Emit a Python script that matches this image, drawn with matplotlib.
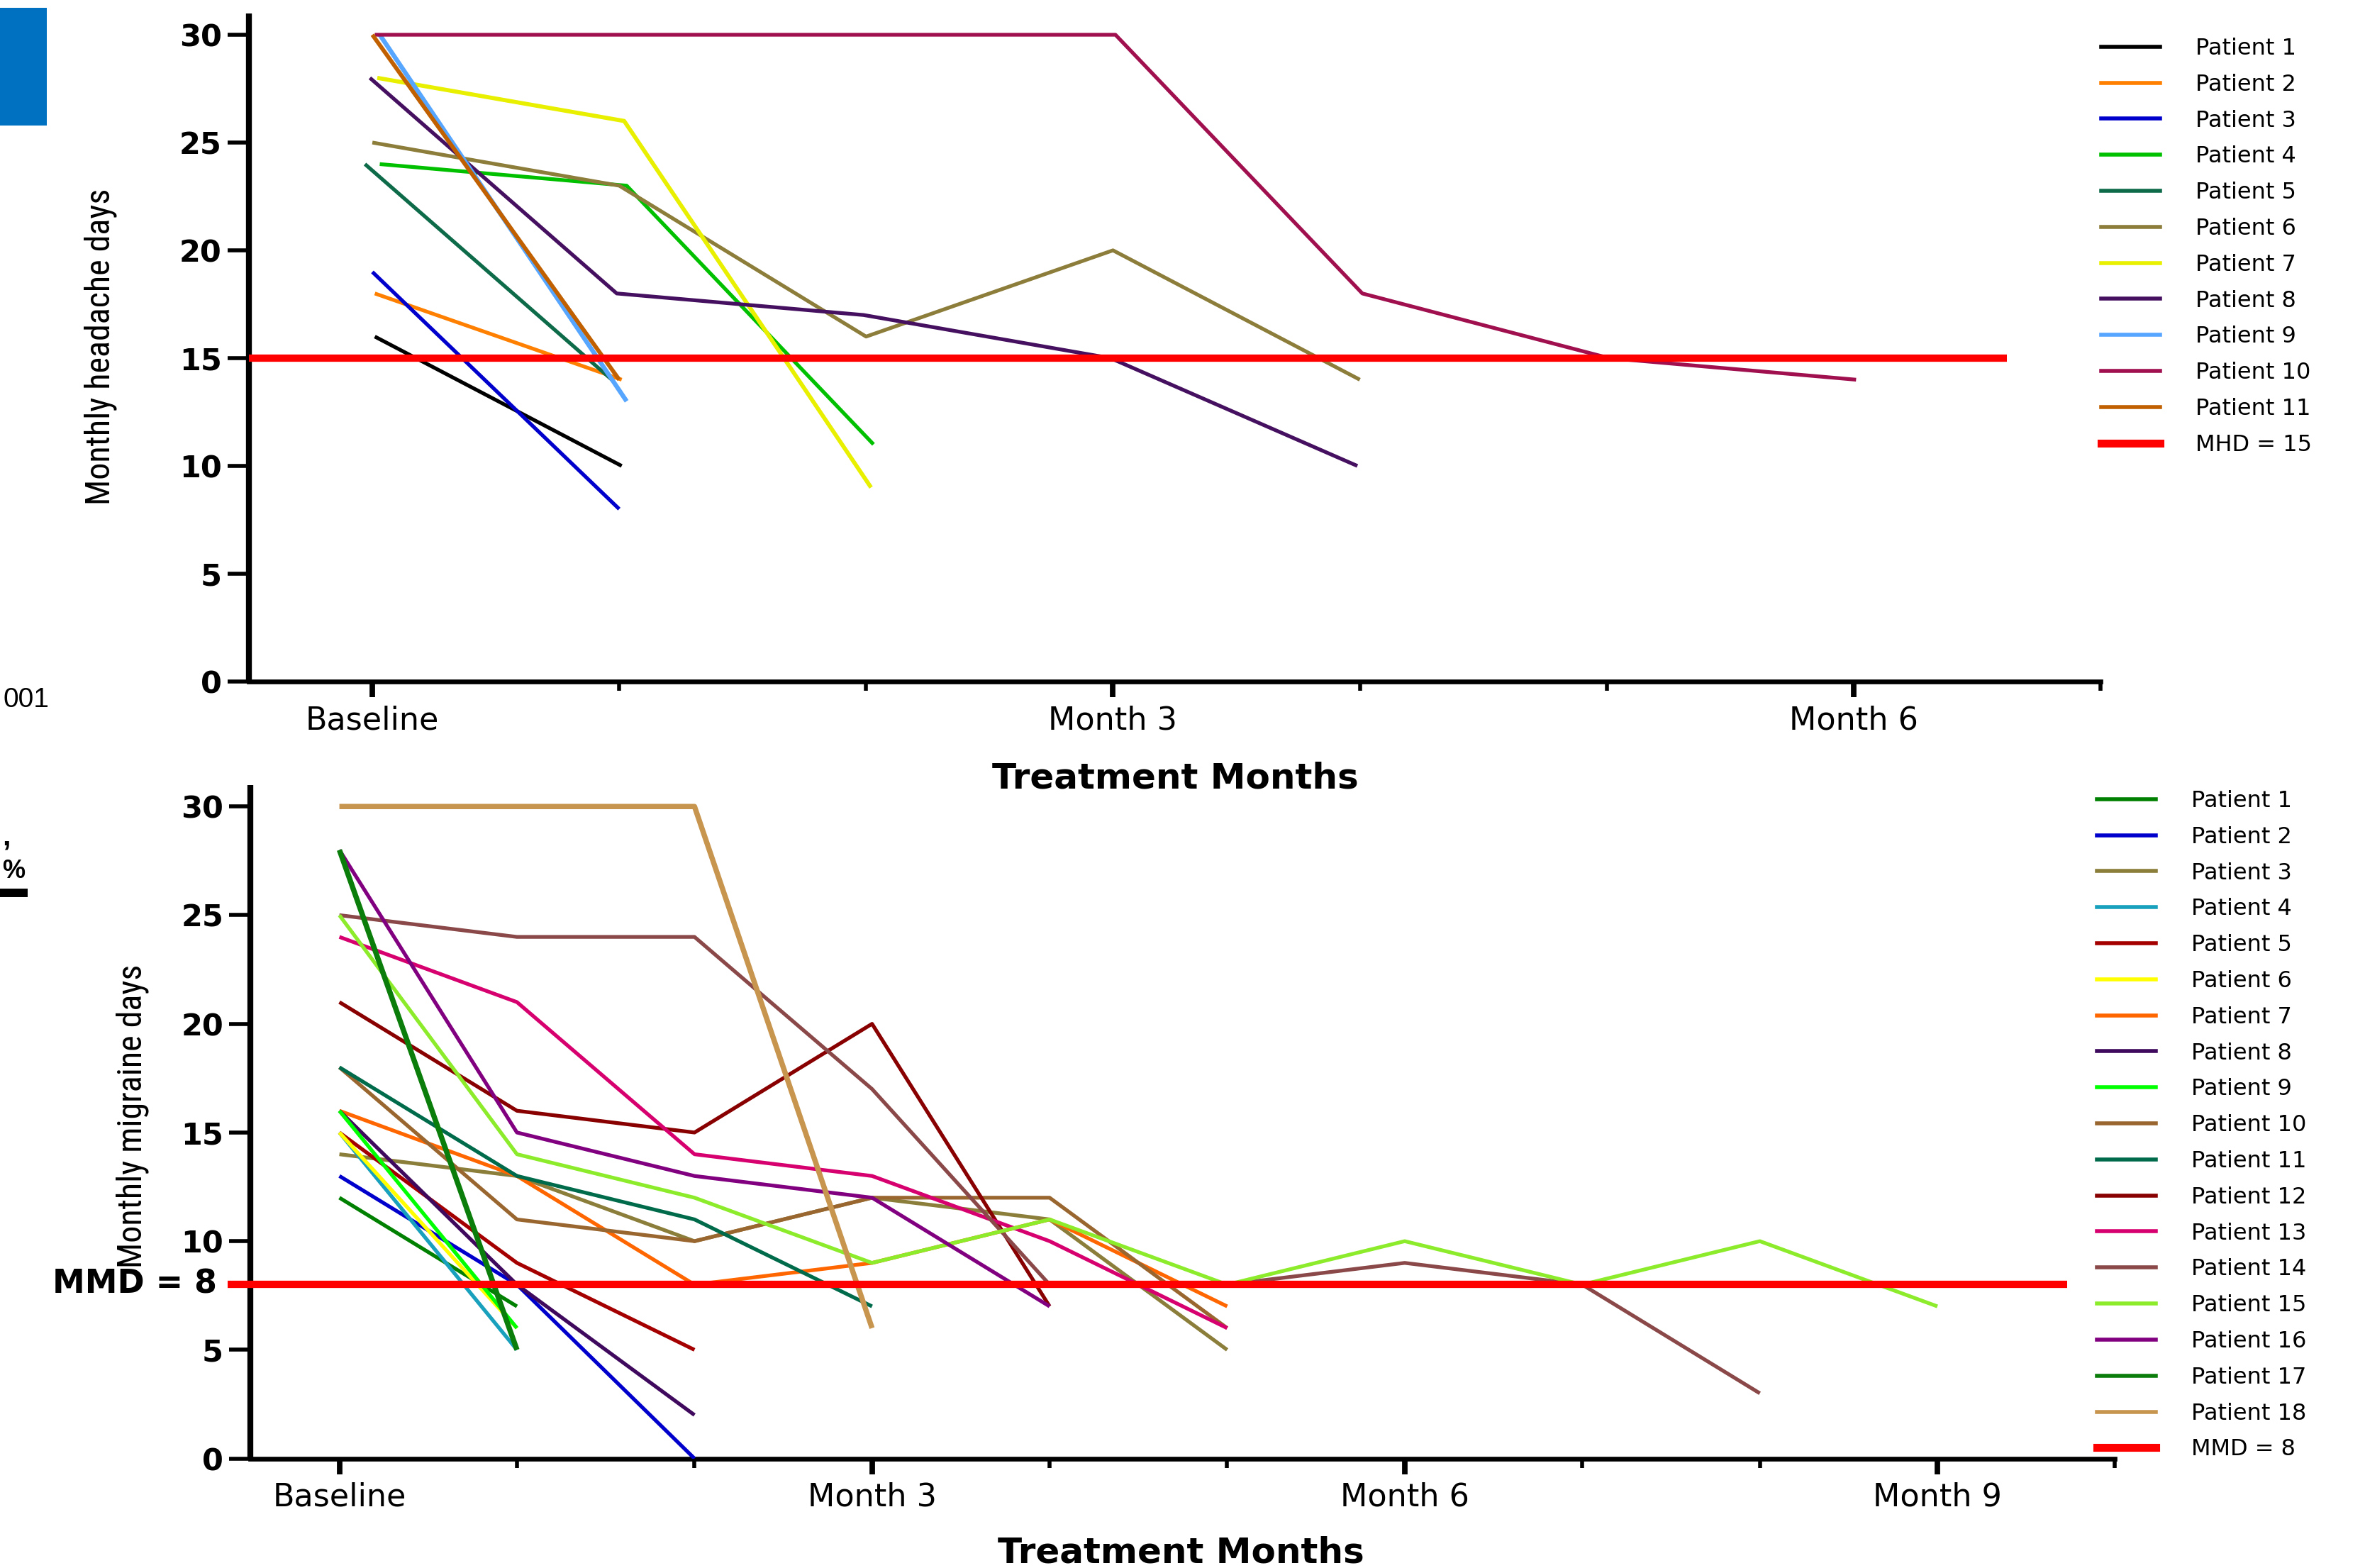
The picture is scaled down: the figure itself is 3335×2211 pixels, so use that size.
import matplotlib
matplotlib.use("Agg")
import matplotlib.pyplot as plt
from matplotlib import font_manager as fm
from matplotlib.lines import Line2D
from matplotlib.patches import Rectangle
from matplotlib.ticker import FixedLocator

# ---------------- data ----------------
top_patients = ["Patient 1", "Patient 2", "Patient 3", "Patient 4", "Patient 5", "Patient 6",
                "Patient 7", "Patient 8", "Patient 9", "Patient 10", "Patient 11"]
top_values = [
    [16, 10],
    [18, 14],
    [19, 8],
    [24, 23, 11],
    [24, 14],
    [25, 23, 16, 20, 14],
    [28, 26, 9],
    [28, 18, 17, 15, 10],
    [30, 13],
    [30, 30, 30, 30, 18, 15, 14],
    [30, 14],
]
top_colors = ["#000000", "#FF8000", "#0000CC", "#00C000", "#0E6B4A", "#8C7D3A",
              "#E8F000", "#45105F", "#56A5FF", "#A0104F", "#C06000"]
top_ref_value = 15
top_ref_label = "MHD = 15"
top_ylabel = "Monthly headache days"

bottom_patients = ["Patient %d" % i for i in range(1, 19)]
bottom_values = [
    [12, 7],
    [13, 8, 0],
    [14, 13, 10, 12, 11, 5],
    [15, 5],
    [15, 9, 5],
    [15, 6],
    [16, 13, 8, 9, 11, 7],
    [16, 8, 2],
    [16, 6],
    [18, 11, 10, 12, 12, 6],
    [18, 13, 11, 7],
    [21, 16, 15, 20, 7],
    [24, 21, 14, 13, 10, 6],
    [25, 24, 24, 17, 8, 8, 9, 8, 3],
    [25, 14, 12, 9, 11, 8, 10, 8, 10, 7],
    [28, 15, 13, 12, 7],
    [28, 5],
    [30, 30, 30, 6],
]
bottom_colors = ["#008000", "#0000CC", "#8B7D3A", "#18A0BC", "#A50000", "#FFFF00",
                 "#FF6600", "#3F0A5E", "#00FF00", "#9A6630", "#006B4A", "#880000",
                 "#D6006E", "#8A4848", "#8CEB2A", "#800080", "#0A7D0A", "#C8954E"]
bottom_ref_value = 8
bottom_ref_label = "MMD = 8"
bottom_ylabel = "Monthly migraine days"

xlabel = "Treatment Months"
top_major_ticks = [0, 3, 6]
top_minor_ticks = [1, 2, 4, 5, 7]
top_xticklabels = ["Baseline", "Month 3", "Month 6"]
bottom_major_ticks = [0, 3, 6, 9]
bottom_minor_ticks = [1, 2, 4, 5, 7, 8, 10]
bottom_xticklabels = ["Baseline", "Month 3", "Month 6", "Month 9"]
yticks = [0, 5, 10, 15, 20, 25, 30]

# ---------------- style ----------------
top_jitter = [0.01, 0.01, 0.0, 0.03, -0.03, 0.0, 0.02, -0.01, 0.03, 0.01, 0.0]
top_lw = [1.9, 1.9, 1.9, 1.9, 1.9, 1.9, 2.1, 1.9, 2.3, 1.9, 2.1]
bottom_lw = [1.9] * 16 + [2.7, 2.7]
top_ref_end = 6.62
bottom_ref_span = (-0.63, 9.73)

avail = {f.name for f in fm.fontManager.ttflist}
narrow = next((n for n in ["Liberation Sans Narrow", "DejaVu Sans Condensed", "Roboto Condensed"]
               if n in avail), None)
if narrow is None:
    narrow_font, narrow_size = "Liberation Sans", 14.5
else:
    narrow_font, narrow_size = narrow, 17.3
WIDE = "DejaVu Sans"
ARIAL = "Liberation Sans" if "Liberation Sans" in avail else "DejaVu Sans"

W, H = 3335, 2211
DPI = 200
fig = plt.figure(figsize=(W / DPI, H / DPI), dpi=DPI)
fig.patch.set_facecolor("white")


def style_axes(ax, xlim, major, minor, labels):
    ax.set_xlim(*xlim)
    ax.set_ylim(0, 31)
    for s in ("top", "right"):
        ax.spines[s].set_visible(False)
    ax.spines["left"].set_linewidth(3.0)
    ax.spines["bottom"].set_linewidth(2.4)
    ax.spines["left"].set_capstyle("butt")
    ax.xaxis.set_major_locator(FixedLocator(major))
    ax.xaxis.set_minor_locator(FixedLocator(minor))
    ax.set_xticklabels(labels, fontfamily=WIDE, fontsize=16)
    ax.tick_params(axis="x", which="major", length=7.9, width=2.8, pad=4, direction="out")
    ax.tick_params(axis="x", which="minor", length=4.7, width=2.0, direction="out")
    ax.set_yticks(yticks)
    ax.set_yticklabels([str(v) for v in yticks], fontfamily=WIDE, fontweight="bold", fontsize=15.5)
    ax.tick_params(axis="y", length=10.8, width=2.0, pad=3)
    ax.set_facecolor("white")


# ---------------- top panel ----------------
ax1 = fig.add_axes([351 / W, 1 - 961 / H, 2611 / W, 942.4 / H])
style_axes(ax1, (-0.5, 7.0), top_major_ticks, top_minor_ticks, top_xticklabels)
handles1 = []
for name, vals, col, jit, lw in zip(top_patients, top_values, top_colors, top_jitter, top_lw):
    xs = [i + jit for i in range(len(vals))]
    ax1.plot(xs, vals, color=col, lw=lw, solid_capstyle="butt", zorder=3)
    handles1.append(Line2D([], [], color=col, lw=2.0, label=name))
ax1.plot([ax1.get_xlim()[0], top_ref_end], [top_ref_value, top_ref_value], color="#FF0000",
         lw=3.7, zorder=6, solid_capstyle="butt", clip_on=False)
handles1.append(Line2D([], [], color="#FF0000", lw=4.0, label=top_ref_label))

# ---------------- bottom panel ----------------
ax2 = fig.add_axes([353.4 / W, 1 - 2056.6 / H, 2629 / W, 950 / H])
style_axes(ax2, (-0.5, 10.0), bottom_major_ticks, bottom_minor_ticks, bottom_xticklabels)
handles2 = []
for name, vals, col, lw in zip(bottom_patients, bottom_values, bottom_colors, bottom_lw):
    xs = list(range(len(vals)))
    ax2.plot(xs, vals, color=col, lw=lw, solid_capstyle="butt", zorder=3)
    handles2.append(Line2D([], [], color=col, lw=2.0, label=name))
ax2.plot(list(bottom_ref_span), [bottom_ref_value, bottom_ref_value], color="#FF0000",
         lw=3.7, zorder=6, solid_capstyle="butt", clip_on=False)
handles2.append(Line2D([], [], color="#FF0000", lw=4.0, label=bottom_ref_label))
ax2.text(-47 / 2629, bottom_ref_value, bottom_ref_label, transform=ax2.get_yaxis_transform(),
         ha="right", va="center", fontfamily=WIDE, fontweight="bold", fontsize=16.5)

# ---------------- legends ----------------
leg_kw = dict(frameon=False, handlelength=2.6, handletextpad=1.55,
              borderpad=0, borderaxespad=0, loc="upper left", prop={"family": WIDE, "size": 11.5})
fig.legend(handles=handles1, bbox_to_anchor=(2963 / W, 1 - 53 / H), labelspacing=0.62, **leg_kw)
fig.legend(handles=handles2, bbox_to_anchor=(2957 / W, 1 - 1114 / H), labelspacing=0.62, **leg_kw)

# ---------------- axis titles ----------------
fig.text(142 / W, 1 - 489 / H, top_ylabel, rotation=90, ha="center", va="center",
         fontfamily=narrow_font, fontsize=narrow_size)
fig.text(187 / W, 1 - 1574 / H, bottom_ylabel, rotation=90, ha="center", va="center",
         fontfamily=narrow_font, fontsize=narrow_size)
fig.text(1657 / W, 1 - 1098 / H, xlabel, ha="center", va="center",
         fontfamily=WIDE, fontweight="bold", fontsize=18)
fig.text(1665 / W, 1 - 2189 / H, xlabel, ha="center", va="center",
         fontfamily=WIDE, fontweight="bold", fontsize=18)

# ---------------- fragments at the left edge ----------------
fig.add_artist(Rectangle((0, 1 - 177 / H), 66 / W, 166 / H, transform=fig.transFigure,
                         facecolor="#0070C0", edgecolor="none"))
fig.text(4 / W, 1 - 987 / H, "001", ha="left", va="center", fontfamily=ARIAL, fontsize=14)
fig.text(3 / W, 1 - 1228 / H, "%", ha="left", va="center", fontfamily=ARIAL,
         fontweight="bold", fontsize=13)
fig.text(3 / W, 1 - 1180 / H, ",", ha="left", va="center", fontfamily=ARIAL,
         fontweight="bold", fontsize=15)
fig.add_artist(Line2D([0, 39 / W], [1 - 1259 / H, 1 - 1259 / H], transform=fig.transFigure,
                      color="black", lw=4.3, solid_capstyle="butt"))

fig.savefig("out.png", dpi=DPI, facecolor="white")
